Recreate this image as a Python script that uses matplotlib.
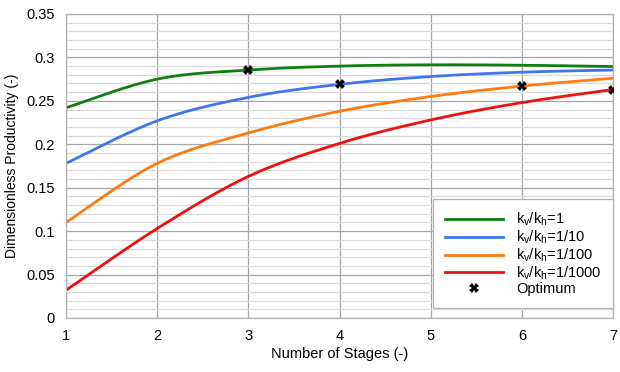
import matplotlib
matplotlib.use('Agg')
import matplotlib.pyplot as plt
import numpy as np

plt.rcParams['font.family'] = ['Liberation Sans', 'DejaVu Sans']
plt.rcParams['mathtext.fontset'] = 'custom'
plt.rcParams['mathtext.rm'] = 'Liberation Sans'

stages = [1, 2, 3, 4, 5, 6, 7]
kv_1 = [0.242, 0.275, 0.2855, 0.290, 0.2915, 0.291, 0.2895]
kv_10 = [0.178, 0.227, 0.254, 0.269, 0.278, 0.283, 0.2855]
kv_100 = [0.110, 0.178, 0.213, 0.238, 0.255, 0.267, 0.276]
kv_1000 = [0.032, 0.103, 0.163, 0.201, 0.228, 0.248, 0.263]
opt_x = [3, 4, 6, 7]
opt_y = [0.2855, 0.269, 0.267, 0.263]

series = [
    (kv_1, '#0f7f12', r'$\mathregular{k_v/k_h}$=1'),
    (kv_10, '#3f76f0', r'$\mathregular{k_v/k_h}$=1/10'),
    (kv_100, '#ff7a12', r'$\mathregular{k_v/k_h}$=1/100'),
    (kv_1000, '#f01010', r'$\mathregular{k_v/k_h}$=1/1000'),
]


def suavizar(x, y, n=30):
    # curva suavizada tipo Excel (Catmull-Rom)
    x = np.asarray(x, float)
    y = np.asarray(y, float)
    px = np.concatenate([[x[0]], x, [x[-1]]])
    py = np.concatenate([[y[0]], y, [y[-1]]])
    xs, ys = [], []
    t = np.linspace(0, 1, n)
    for i in range(1, len(px) - 2):
        p0, p1, p2, p3 = [np.array([px[j], py[j]]) for j in range(i - 1, i + 3)]
        c1 = p1 + (p2 - p0) / 6
        c2 = p2 - (p3 - p1) / 6
        pts = ((1 - t) ** 3)[:, None] * p1 + (3 * (1 - t) ** 2 * t)[:, None] * c1 \
            + (3 * (1 - t) * t ** 2)[:, None] * c2 + (t ** 3)[:, None] * p2
        xs.extend(pts[:, 0])
        ys.extend(pts[:, 1])
    return xs, ys


fig = plt.figure(figsize=(6.2, 3.72), dpi=100)
ax = fig.add_axes([0.1065, 0.1452, 0.8822, 0.8172])

ax.set_xlim(1, 7)
ax.set_ylim(0, 0.35)
ax.set_xticks(stages)
ax.set_yticks(np.arange(0, 0.351, 0.05))
ax.set_yticks(np.arange(0, 0.351, 0.01), minor=True)
ax.set_yticklabels(['0', '0.05', '0.1', '0.15', '0.2', '0.25', '0.3', '0.35'])
ax.grid(True, which='major', axis='both', color='#a6a6a6', linewidth=0.9)
ax.grid(True, which='minor', axis='y', color='#d9d9d9', linewidth=0.9)
ax.set_axisbelow(True)
ax.tick_params(which='both', length=0, labelsize=10.5, colors='black', pad=8)
for s in ax.spines.values():
    s.set_color('#b3b3b3')
    s.set_linewidth(0.9)

for valores, color, nombre in series:
    xs, ys = suavizar(stages, valores)
    ax.plot(xs, ys, color=color, linewidth=2, label=nombre)

ax.plot(opt_x, opt_y, linestyle='none', marker='X', markersize=7,
        color='black', markeredgewidth=0, label='Optimum', zorder=5)

ax.set_xlabel('Number of Stages (-)', fontsize=10.5, labelpad=3)
ax.set_ylabel('Dimensionless Productivity (-)', fontsize=10, labelpad=5)

leg = ax.legend(loc='lower right', bbox_to_anchor=(1.0, 0.033), fontsize=10.5,
                frameon=True, fancybox=False, edgecolor='#b3b3b3', framealpha=1,
                borderpad=0.8, handlelength=4.0, handletextpad=0.9,
                labelspacing=0.03, borderaxespad=0)
leg.get_frame().set_linewidth(0.9)

plt.savefig('out.png', dpi=100)
plt.close()
